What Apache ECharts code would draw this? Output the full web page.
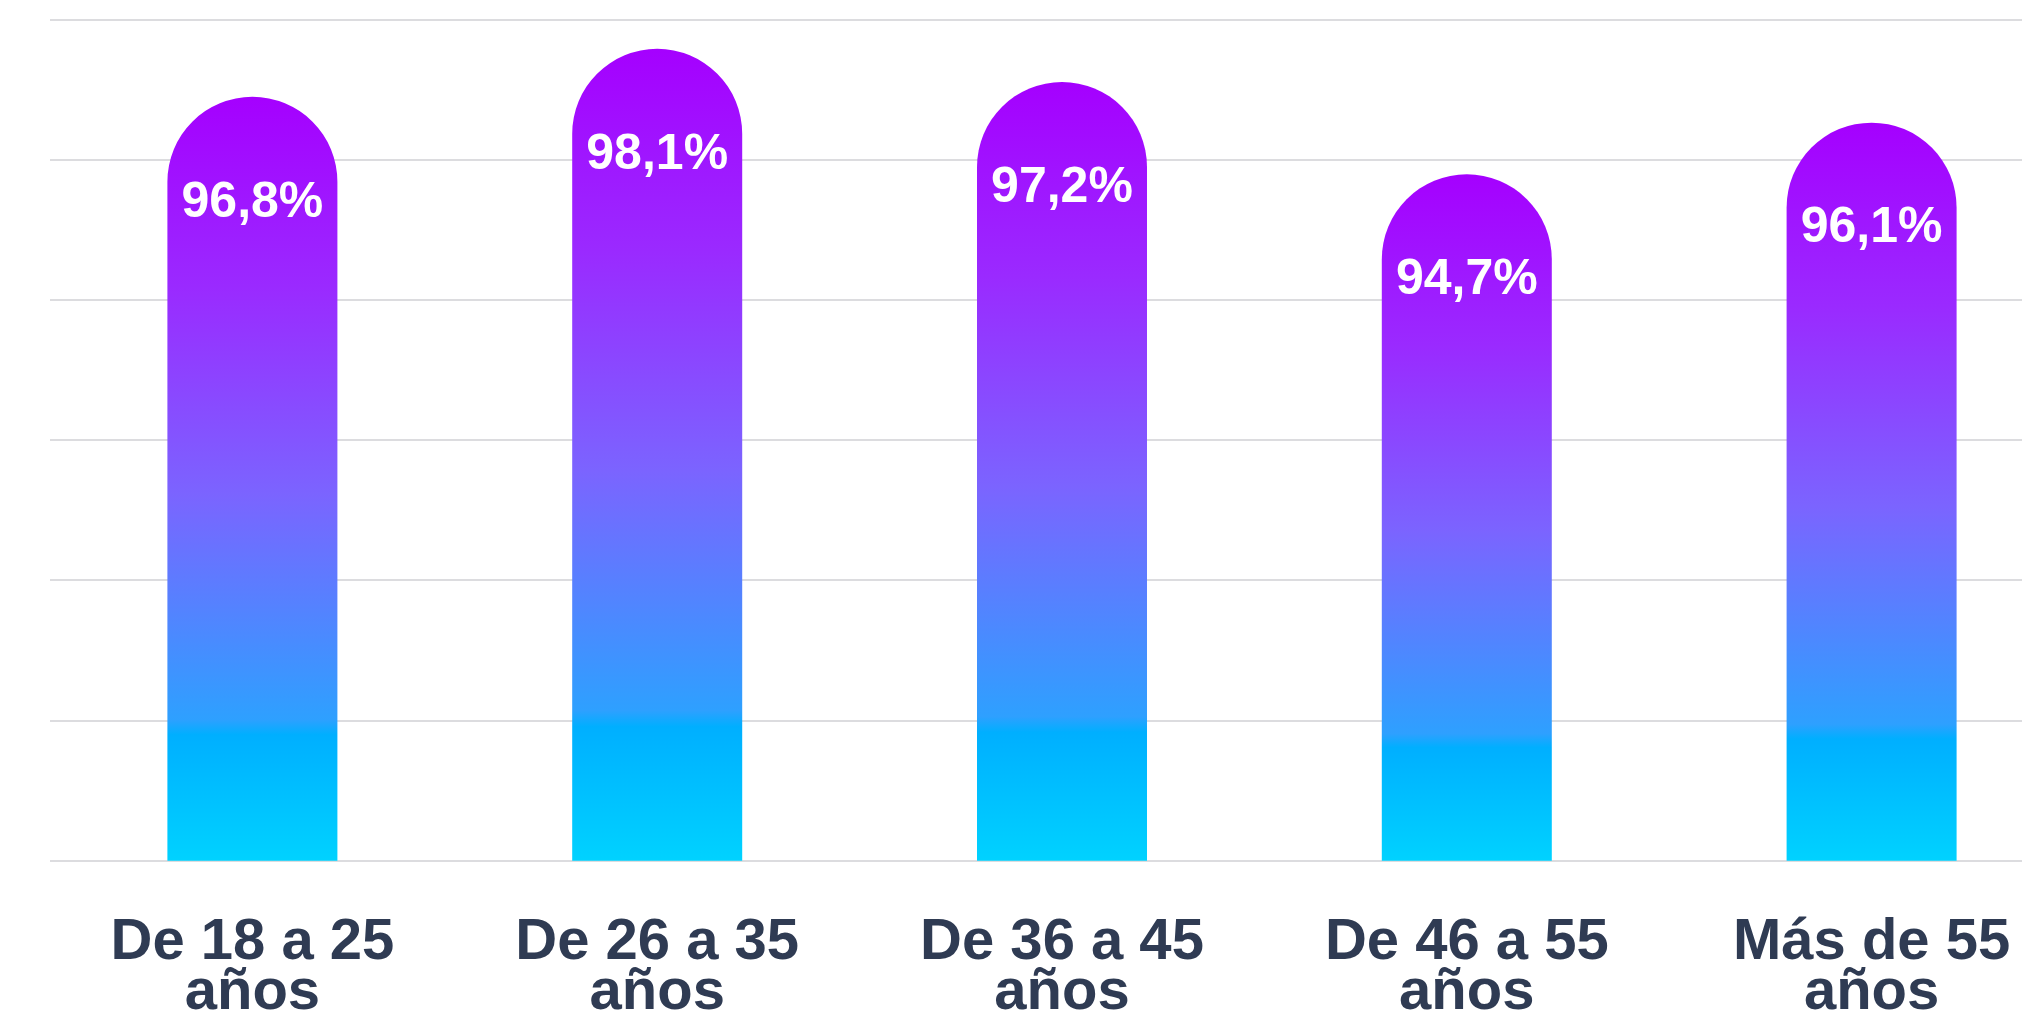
<!DOCTYPE html>
<html>
<head>
<meta charset="utf-8">
<script src="https://cdn.jsdelivr.net/npm/echarts@6/dist/echarts.min.js"></script>
<style>
  html, body { margin: 0; padding: 0; background: #ffffff; }
  #chart { width: 2022px; height: 1018px; }
</style>
</head>
<body>
<div id="chart"></div>
<script>
const categories = ['De 18 a 25\naños', 'De 26 a 35\naños', 'De 36 a 45\naños', 'De 46 a 55\naños', 'Más de 55\naños'];
const values = [96.8, 98.1, 97.2, 94.7, 96.1];

const chart = echarts.init(document.getElementById('chart'), null, { renderer: 'canvas' });

const barGradient = new echarts.graphic.LinearGradient(0, 0, 0, 1, [
  { offset: 0, color: '#a500ff' },
  { offset: 0.25, color: '#9a2aff' },
  { offset: 0.52, color: '#7b64ff' },
  { offset: 0.815, color: '#2ea0ff' },
  { offset: 0.835, color: '#00afff' },
  { offset: 1, color: '#00d2ff' }
]);

chart.setOption({
  animation: false,
  backgroundColor: '#ffffff',
  grid: {
    left: 50,
    top: 19.3,
    width: 2024,
    bottom: 157.3,
    containLabel: false,
    outerBoundsMode: 'none'
  },
  xAxis: {
    type: 'category',
    data: categories,
    axisLine: { show: false },
    axisTick: { show: false },
    splitLine: { show: false },
    axisLabel: {
      interval: 0,
      margin: 57,
      color: '#2f3b53',
      fontFamily: 'Liberation Sans, Arial, sans-serif',
      fontWeight: 'bold',
      fontSize: 58,
      lineHeight: 50,
      align: 'center'
    }
  },
  yAxis: [
    {
      type: 'value',
      min: 76.1,
      max: 98.9,
      axisLine: { show: false },
      axisTick: { show: false },
      axisLabel: { show: false },
      splitLine: { show: false }
    },
    {
      type: 'value',
      min: 0,
      max: 6,
      interval: 1,
      position: 'left',
      axisLine: { show: false },
      axisTick: { show: false },
      axisLabel: { show: false },
      splitLine: { show: true, lineStyle: { color: '#dcdcdf', width: 2 } }
    }
  ],
  series: [
    {
      type: 'bar',
      yAxisIndex: 0,
      data: values,
      barWidth: 170,
      itemStyle: {
        color: barGradient,
        borderRadius: [85, 85, 0, 0]
      },
      label: {
        show: true,
        position: 'insideTop',
        distance: 81,
        color: '#ffffff',
        fontFamily: 'Liberation Sans, Arial, sans-serif',
        fontWeight: 'bold',
        fontSize: 50,
        formatter: p => String(p.value).replace('.', ',') + '%'
      }
    }
  ]
});
</script>
</body>
</html>
